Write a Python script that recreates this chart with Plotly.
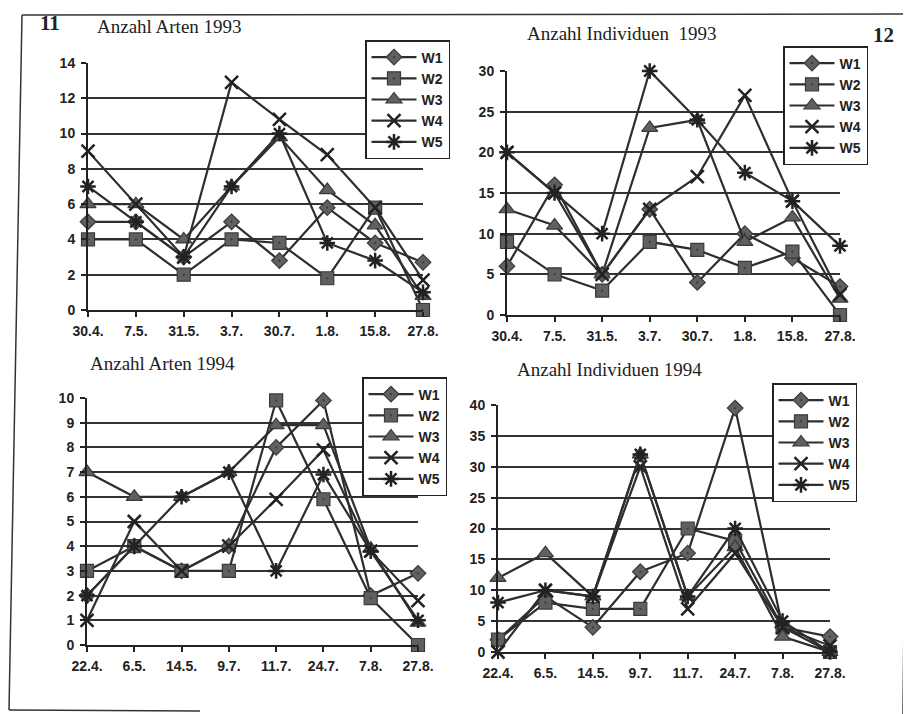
import plotly.graph_objects as go

# The page body has an 8px margin, so the figure is drawn 8px smaller and all
# reference pixel positions are shifted by OFF.
OFF = 8
W, H = 911 - OFF, 714 - OFF

dates_1993 = ["30.4.", "7.5.", "31.5.", "3.7.", "30.7.", "1.8.", "15.8.", "27.8."]
dates_1994 = ["22.4.", "6.5.", "14.5.", "9.7.", "11.7.", "24.7.", "7.8.", "27.8."]
series_names = ["W1", "W2", "W3", "W4", "W5"]

# Anzahl Arten 1993
arten_1993_w1 = [5, 5, 3, 5, 2.8, 5.8, 3.8, 2.7]
arten_1993_w2 = [4, 4, 2, 4, 3.8, 1.8, 5.8, 0]
arten_1993_w3 = [6, 6, 4, 7, 9.8, 6.8, 4.8, 0.8]
arten_1993_w4 = [9, 6, 3, 12.9, 10.8, 8.8, 5.8, 1.7]
arten_1993_w5 = [7, 5, 3, 7, 10, 3.8, 2.8, 1]

# Anzahl Individuen 1993
indiv_1993_w1 = [6, 16, 5, 13, 4, 10, 7, 3.5]
indiv_1993_w2 = [9, 5, 3, 9, 8, 5.8, 7.8, 0]
indiv_1993_w3 = [13, 11, 5, 23, 24, 9, 12, 2]
indiv_1993_w4 = [20, 15, 5, 13, 17, 27, 14, 2.5]
indiv_1993_w5 = [20, 15, 10, 30, 24, 17.5, 14, 8.5]

# Anzahl Arten 1994
arten_1994_w1 = [2, 4, 3, 4, 8, 9.9, 2, 2.9]
arten_1994_w2 = [3, 4, 3, 3, 9.9, 5.9, 1.9, 0]
arten_1994_w3 = [7, 6, 6, 7, 8.9, 8.9, 3.9, 0.9]
arten_1994_w4 = [1, 5, 3, 4, 5.9, 7.9, 3.8, 1.8]
arten_1994_w5 = [2, 4, 6, 7, 3, 6.9, 3.8, 1]

# Anzahl Individuen 1994
indiv_1994_w1 = [2, 9, 4, 13, 16, 39.5, 4, 2.5]
indiv_1994_w2 = [2, 8, 7, 7, 20, 18, 4, 0]
indiv_1994_w3 = [12, 16, 9, 32, 9, 17, 2.5, 0]
indiv_1994_w4 = [0, 10, 9, 30, 7, 16, 4, 1]
indiv_1994_w5 = [8, 10, 9, 32, 9, 20, 5, 0]

panels = [
    dict(title="Anzahl Arten 1993", dates=dates_1993,
         data=[arten_1993_w1, arten_1993_w2, arten_1993_w3, arten_1993_w4, arten_1993_w5],
         xpx=(88, 423), ypx=(63, 310), yr=(0, 14), dt=2,
         title_pos=(95, 26), legend_pos=(365, 40)),
    dict(title="Anzahl Individuen  1993", dates=dates_1993,
         data=[indiv_1993_w1, indiv_1993_w2, indiv_1993_w3, indiv_1993_w4, indiv_1993_w5],
         xpx=(507, 840), ypx=(71, 315), yr=(0, 30), dt=5,
         title_pos=(525, 33), legend_pos=(783, 46)),
    dict(title="Anzahl Arten 1994", dates=dates_1994,
         data=[arten_1994_w1, arten_1994_w2, arten_1994_w3, arten_1994_w4, arten_1994_w5],
         xpx=(87, 418), ypx=(398, 645), yr=(0, 10), dt=1,
         title_pos=(88, 363), legend_pos=(362, 377)),
    dict(title="Anzahl Individuen 1994", dates=dates_1994,
         data=[indiv_1994_w1, indiv_1994_w2, indiv_1994_w3, indiv_1994_w4, indiv_1994_w5],
         xpx=(498, 830), ypx=(405, 652), yr=(0, 40), dt=5,
         title_pos=(515, 370), legend_pos=(772, 383)),
]

symbols = ["diamond-dot", "square-dot", "triangle-up", "x-thin", "asterisk"]
sizes = [12, 13, 14, 13, 13]
line_col = "#2e2e2e"
fill_col = "#606060"


def px_x(x):
    return (x - OFF) / W


def px_y(y):
    return 1 - (y - OFF) / H


fig = go.Figure()
layout = dict(
    width=W, height=H,
    margin=dict(l=0, r=0, t=0, b=0, autoexpand=False),
    paper_bgcolor="white", plot_bgcolor="rgba(0,0,0,0)",
    annotations=[], shapes=[],
)

tick_font = dict(family="Liberation Sans", size=14, color="#222", weight="bold")

for i, p in enumerate(panels):
    k = "" if i == 0 else str(i + 1)
    lg = "legend" if i == 0 else "legend" + str(i + 1)
    for j, (name, vals) in enumerate(zip(series_names, p["data"])):
        sym = symbols[j]
        open_sym = sym in ("x-thin", "asterisk")
        fig.add_trace(go.Scatter(
            x=p["dates"], y=vals, name=name, mode="lines+markers",
            xaxis="x" + k, yaxis="y" + k, legend=lg,
            legendgroup="g%d_%d" % (i, j),
            cliponaxis=False,
            line=dict(color=line_col, width=2.2),
            marker=dict(symbol=sym, size=sizes[j],
                        color="#222222" if open_sym else fill_col,
                        line=dict(color="#222222" if open_sym else "#3a3a3a",
                                  width=2.5 if open_sym else 1.2)),
        ))
    layout["xaxis" + k] = dict(
        domain=[px_x(p["xpx"][0]), px_x(p["xpx"][1])],
        anchor="y" + k, type="category", range=[0, 7],
        showgrid=False, showline=True, linecolor="#222", linewidth=2,
        ticks="outside", ticklen=5, tickwidth=1.5, tickcolor="#222",
        ticklabelstandoff=2,
        tickfont=tick_font, automargin=False,
        fixedrange=True,
    )
    layout["yaxis" + k] = dict(
        domain=[px_y(p["ypx"][1]), px_y(p["ypx"][0])],
        anchor="x" + k, range=list(p["yr"]), dtick=p["dt"],
        showgrid=True, gridcolor="#333", gridwidth=1.6,
        zeroline=False, showline=True, linecolor="#222", linewidth=2,
        ticks="outside", ticklen=5, tickwidth=1.5, tickcolor="#222",
        ticklabelstandoff=3,
        tickfont=tick_font, automargin=False,
        fixedrange=True,
    )
    layout[lg] = dict(
        x=px_x(p["legend_pos"][0]), y=px_y(p["legend_pos"][1]),
        xanchor="left", yanchor="top",
        bgcolor="white", bordercolor="#222", borderwidth=1.5,
        font=dict(family="Liberation Sans", size=14, color="#222", weight="bold"),
        tracegroupgap=0, itemwidth=45,
    )
    layout["annotations"].append(dict(
        text=p["title"], xref="paper", yref="paper",
        x=px_x(p["title_pos"][0]), y=px_y(p["title_pos"][1]),
        xanchor="left", yanchor="middle", showarrow=False,
        font=dict(family="Liberation Serif", size=19, color="#222"),
    ))

layout["annotations"] += [
    dict(text="<b>11</b>", xref="paper", yref="paper", x=px_x(38), y=px_y(23),
         xanchor="left", yanchor="middle", showarrow=False,
         font=dict(family="Liberation Serif", size=21, color="#222")),
    dict(text="<b>12</b>", xref="paper", yref="paper", x=px_x(871), y=px_y(35),
         xanchor="left", yanchor="middle", showarrow=False,
         font=dict(family="Liberation Serif", size=21, color="#222")),
]

frame = [((22, 15), (911, 14)), ((22, 15), (9, 710)), ((9, 710), (200, 711)),
         ((909, 120), (903, 714))]
for (x0, y0), (x1, y1) in frame:
    layout["shapes"].append(dict(
        type="line", xref="paper", yref="paper",
        x0=px_x(x0), y0=px_y(y0), x1=px_x(x1), y1=px_y(y1),
        line=dict(color="#333", width=1.5),
    ))

fig.update_layout(**layout)
fig.write_html("out.html")
